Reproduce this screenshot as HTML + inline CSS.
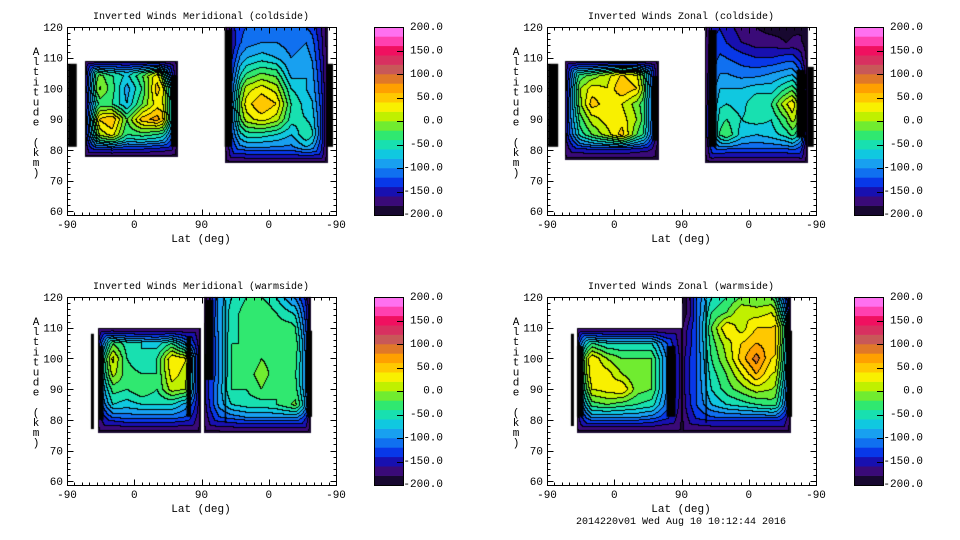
<!DOCTYPE html>
<html><head><meta charset="utf-8">
<style>
html,body{margin:0;padding:0;background:#fff;}
#wrap{position:relative;width:960px;height:540px;overflow:hidden;}
canvas,svg{position:absolute;left:0;top:0;}
text{font-family:"Liberation Mono",monospace;fill:#000;}
</style></head>
<body>
<div id="wrap">
<canvas id="cv" width="960" height="540"></canvas>
<svg id="sv" width="960" height="540"></svg>
</div>
<script>
// ---- data ----
const uCols = [0,20,40,60,80,100,120,140,160,180,200,220,240,260,280,300,320,340,360];
const altRows = [120,115,110,105,100,95,90,85,80,75];
const xTickLabels = ["-90","0","90","0","-90"];
const yTickLabels = ["60","70","80","90","100","110","120"];
const cbarLabels = ["200.0","150.0","100.0","50.0","0.0","-50.0","-100.0","-150.0","-200.0"];
const X = -200;
const merCold = [
[X,X,X,X,X,X,X,X,X,X,X,-130,-120,-110,-110,-110,-120,-140,X],
[X,X,X,X,X,X,X,X,X,X,X,-140,-110,-100,-100,-110,-100,-130,X],
[X,-150,-150,-130,-130,-130,-130,-150,X,X,X,-120,-80,-70,-80,-100,-90,-120,X],
[X,-100,-10,-40,-60,-20,30,-100,X,X,X,-100,-40,-20,-30,-90,-80,-110,X],
[X,-80,10,-30,-90,-40,50,0,X,X,X,-80,10,30,10,-60,-80,-100,X],
[X,-80,-30,-40,-80,-20,30,20,X,X,X,-60,30,60,40,-40,-70,-90,X],
[X,-70,40,60,-20,50,70,20,X,X,X,-70,10,30,10,-50,-60,-80,X],
[X,-80,0,30,-40,-30,-40,-60,X,X,X,-90,-50,-50,-60,-80,-40,-80,X],
[X,-130,-120,-110,-120,-120,-130,-140,X,X,X,-120,-110,-110,-110,-110,-90,-110,X],
[X,-170,-170,-170,-170,-170,-170,-170,X,X,X,-150,-150,-150,-150,-150,-150,-150,X]];
const zonCold = [
[X,X,X,X,X,X,X,X,X,X,X,-130,-150,-170,-180,-190,-190,-180,X],
[X,X,X,X,X,X,X,X,X,X,X,-120,-140,-160,-170,-170,-180,-170,X],
[X,-150,-140,-140,-140,-140,-140,-150,X,X,X,-110,-120,-130,-140,-140,-130,-130,X],
[X,-120,-40,-20,10,40,20,-80,X,X,X,-100,-100,-110,-110,-100,-90,-80,X],
[X,-100,-10,30,20,60,40,-60,X,X,X,-80,-80,-80,-70,-70,-40,-10,X],
[X,-80,-20,50,30,20,-10,-60,X,X,X,-70,-60,-70,-40,-40,20,60,X],
[X,-60,-40,10,30,30,0,-60,X,X,X,-60,-40,-60,-50,-60,-20,50,X],
[X,-80,-60,-20,10,50,-20,-70,X,X,X,-60,-20,-70,-80,-70,-50,-10,X],
[X,-140,-140,-130,-130,-130,-140,-150,X,X,X,-110,-120,-120,-120,-120,-120,-110,X],
[X,-170,-170,-170,-170,-170,-170,-170,X,X,X,-150,-150,-150,-150,-150,-150,-150,X]];
const merWarm = [
[X,X,X,X,X,X,X,X,X,X,-100,-60,-40,-40,-60,-100,-110,X,X],
[X,X,X,X,X,X,X,X,X,X,-100,-50,-30,-20,-40,-60,-80,X,X],
[X,X,-150,-150,-150,-150,-150,-150,-150,-150,-100,-50,-30,-30,-30,-30,-60,X,X],
[X,X,-60,-20,-50,-60,-70,-40,-100,-120,-110,-40,-40,-30,-20,-20,-40,X,X],
[X,X,40,30,-40,-60,-40,40,20,-100,-110,-40,-40,-20,-30,-30,-30,X,X],
[X,X,20,10,-30,-40,-40,30,10,-100,-110,-40,-30,-10,-30,-40,-30,X,X],
[X,X,-20,-30,-40,-20,-40,10,0,-100,-100,-40,-40,-20,-40,-30,-30,X,X],
[X,X,-60,-60,-70,-60,-60,-60,-90,-110,-100,-60,-50,-50,-40,-20,0,X,X],
[X,X,-130,-130,-120,-120,-120,-120,-130,-140,-130,-120,-110,-110,-110,-110,-110,X,X],
[X,X,-170,-170,-170,-170,-170,-170,-170,-170,-160,-160,-160,-160,-160,-160,-160,X,X]];
const zonWarm = [
[X,X,X,X,X,X,X,X,X,X,-120,-60,-40,-20,-20,-20,-80,X,X],
[X,X,X,X,X,X,X,X,X,X,-120,-40,-20,20,10,20,-20,X,X],
[X,X,-150,-150,-150,-150,-150,-150,-150,-150,-120,-20,40,10,40,40,60,X,X],
[X,X,-20,-40,-60,-60,-60,-60,-120,-140,-120,-30,10,40,60,50,40,X,X],
[X,X,80,40,0,-20,-20,-20,-100,-120,-120,-40,0,50,90,40,30,X,X],
[X,X,50,40,30,0,-20,-20,-100,-120,-120,-50,-20,20,60,20,10,X,X],
[X,X,20,20,30,40,-10,-20,-100,-120,-120,-60,-30,-10,10,0,-20,X,X],
[X,X,-40,-30,-20,-30,-40,-50,-110,-130,-120,-80,-60,-50,-40,-30,-40,X,X],
[X,X,-120,-110,-110,-110,-110,-120,-140,-150,-140,-130,-130,-130,-130,-130,-130,X,X],
[X,X,-170,-170,-170,-170,-170,-170,-170,-170,-160,-160,-160,-160,-160,-160,-160,X,X]];
const blocksMC = [[24,147,78,109],[211,348,76,120]];
const stripsMC = [[1,13,80,109],[139,148,80,105],[211,221,80,120],[347,356,80,109]];
const blocksZC = [[24,149,77,109],[212,348,76,120]];
const stripsZC = [[1,15,80,109],[141,149,82,105],[216,227,80,120],[334,346,83,107],[349,357,80,108]];
const blocksMW = [[42,178,76,110],[183,325,76,120]];
const stripsMW = [[32,36,76,109],[42,49,79,105],[160,166,80,108],[185,196,92,120],[211,213,78,120],[321,328,80,110]];
const blocksZW = [[40,180,76,110],[181,325,76,120]];
const stripsZW = [[32,36,77,109],[40,49,80,105],[160,172,80,105],[212,214,78,120],[321,328,80,110]];
const bandColors = ["#180830","#3a0a78","#1810b0","#0838e8","#1070f0","#18a0f0","#10c8e0","#18e0b0","#30e870","#70ec30","#c0f000","#f8f000","#ffc800","#ffa000","#e07828","#c85858","#d83060","#f01060","#ff40b0","#ff70f0"];

const panels = [
 {name:"meridional-coldside",title:"Inverted Winds Meridional (coldside)",ox:0,oy:0,data:merCold,blocks:blocksMC,strips:stripsMC},
 {name:"zonal-coldside",title:"Inverted Winds Zonal (coldside)",ox:480,oy:0,data:zonCold,blocks:blocksZC,strips:stripsZC},
 {name:"meridional-warmside",title:"Inverted Winds Meridional (warmside)",ox:0,oy:270,data:merWarm,blocks:blocksMW,strips:stripsMW},
 {name:"zonal-warmside",title:"Inverted Winds Zonal (warmside)",ox:480,oy:270,data:zonWarm,blocks:blocksZW,strips:stripsZW}
];
const BX0=67,BX1=336,BY0=27,BY1=215;
function xOf(u,p){return p.ox+BX0+u*(BX1-BX0)/360;}
function yOf(a,p){return p.oy+27+(120-a)*3.07;}
function uOf(x,p){return (x-p.ox-BX0)*360/(BX1-BX0);}
function aOf(y,p){return 120-(y-p.oy-27)/3.07;}
function sample(d,u,a){
  let fc=Math.max(0,Math.min(uCols.length-1.001,u/20));
  let fr=Math.max(0,Math.min(altRows.length-1.001,(120-a)/5));
  let c=Math.floor(fc),r=Math.floor(fr),tc=fc-c,tr=fr-r;
  let v00=d[r][c],v01=d[r][c+1],v10=d[r+1][c],v11=d[r+1][c+1];
  return (v00*(1-tc)+v01*tc)*(1-tr)+(v10*(1-tc)+v11*tc)*tr;
}
function hex(h){return [parseInt(h.substr(1,2),16),parseInt(h.substr(3,2),16),parseInt(h.substr(5,2),16)];}
const rgb=bandColors.map(hex);
const cv=document.getElementById('cv');const ctx=cv.getContext('2d');
const img=ctx.createImageData(960,540);
for(let i=0;i<img.data.length;i+=4){img.data[i]=255;img.data[i+1]=255;img.data[i+2]=255;img.data[i+3]=255;}
const band=new Int16Array(960*540).fill(-1);
panels.forEach(p=>{
  p.blocks.forEach(b=>{
    const x0=Math.round(xOf(b[0],p)),x1=Math.round(xOf(b[1],p));
    const y0=Math.round(yOf(b[3],p)),y1=Math.round(yOf(b[2],p));
    for(let y=y0;y<=y1;y++)for(let x=x0;x<=x1;x++){
      let v=sample(p.data,uOf(x,p),aOf(y,p));
      let dd=Math.min(x-x0,x1-x,y-y0,y1-y);
      if(b[3]>=120) dd=Math.min(x-x0,x1-x,y1-y);
      const k=15; if(dd<k){const t=Math.max(0,dd)/k; v=-190+(v+190)*Math.sqrt(t);}
      let bi=Math.floor((v+200)/20);bi=Math.max(0,Math.min(19,bi));
      band[y*960+x]=bi;
    }
  });
});
for(let y=0;y<540;y++)for(let x=0;x<960;x++){
  const b=band[y*960+x];if(b<0)continue;
  let c=rgb[b];
  const r=x<959?band[y*960+x+1]:b,dn=y<539?band[(y+1)*960+x]:b;
  if((r>=0&&r!==b)||(dn>=0&&dn!==b))c=[0,0,0];
  const i=(y*960+x)*4;img.data[i]=c[0];img.data[i+1]=c[1];img.data[i+2]=c[2];
}
ctx.putImageData(img,0,0);
panels.forEach(p=>{
  ctx.fillStyle="#000";
  p.strips.forEach(s=>{
    const x0=xOf(s[0],p),x1=xOf(s[1],p),y0=yOf(s[3],p)+3,y1=yOf(s[2],p)-3;
    ctx.fillRect(x0,y0,x1-x0,y1-y0);
  });
});
const NS="http://www.w3.org/2000/svg";const sv=document.getElementById('sv');
function el(tag,attrs,parent){const e=document.createElementNS(NS,tag);for(const k in attrs)e.setAttribute(k,attrs[k]);(parent||sv).appendChild(e);return e;}
function line(x1,y1,x2,y2,g){el('line',{x1:x1,y1:y1,x2:x2,y2:y2,stroke:'#000','stroke-width':1},g);}
panels.forEach(p=>{
  const g=el('g',{});
  
  
  const L=p.ox+BX0+0.5,R=p.ox+BX1+0.5,T=p.oy+BY0+0.5,B=p.oy+BY1+0.5;
  const fr=el('rect',{x:L,y:T,width:R-L,height:B-T,fill:'none',stroke:'#000','stroke-width':1},g);
  
  
  for(let a=60;a<=120;a+=2){const y=Math.round(yOf(a,p))+0.5;const len=(a%10===0)?6:3;line(L,y,L+len,y,g);line(R,y,R-len,y,g);}
  for(let u=0;u<=360;u+=10){const x=Math.round(xOf(u,p))+0.5;const len=(u%90===0)?6:3;line(x,B,x,B-len,g);line(x,T,x,T+len,g);}
  yTickLabels.forEach((t,i)=>{const a=60+i*10;const tx=el('text',{x:p.ox+63,y:yOf(a,p)+4,'font-size':11,'text-anchor':'end'},g);tx.textContent=t;
    
    });
  xTickLabels.forEach((t,i)=>{const tx=el('text',{x:xOf(i*90,p),y:p.oy+228,'font-size':11,'text-anchor':'middle'},g);tx.textContent=t;
    
    });
  const ti=el('text',{x:p.ox+201,y:p.oy+19,'font-size':10,'text-anchor':'middle'},g);ti.textContent=p.title;
  
  
  const xl=el('text',{x:p.ox+201,y:p.oy+242,'font-size':11,'text-anchor':'middle'},g);xl.textContent="Lat (deg)";
  
  
  const yl=el('g',{},g);
  
  
  "Altitude (km)".split('').forEach((ch,i)=>{const t=el('text',{x:p.ox+36,y:p.oy+55+i*10.1,'font-size':11,'text-anchor':'middle'},yl);t.textContent=ch;});
  const cb=el('g',{},g);
  
  
  const cx0=p.ox+374,cw=29,cy0=p.oy+27,ch=188,bh=ch/20;
  bandColors.forEach((c,i)=>{el('rect',{x:cx0,y:cy0+ch-(i+1)*bh,width:cw,height:bh+0.3,fill:c},cb);});
  el('rect',{x:cx0+0.5,y:cy0+0.5,width:cw,height:ch,fill:'none',stroke:'#000'},cb);
  cbarLabels.forEach((t,i)=>{
    const yy=cy0+i*ch/8;
    if(i>0&&i<8)line(cx0+cw-6,Math.round(yy)+0.5,cx0+cw,Math.round(yy)+0.5,cb);
    const tx=el('text',{x:p.ox+443,y:p.oy+26+i*23.4+4,'font-size':11,'text-anchor':'end'},cb);tx.textContent=t;
    
    
  });
});
const ft=el('text',{x:681,y:524,'font-size':10,'text-anchor':'middle'});ft.textContent="2014220v01 Wed Aug 10 10:12:44 2016";


</script>
</body></html>
